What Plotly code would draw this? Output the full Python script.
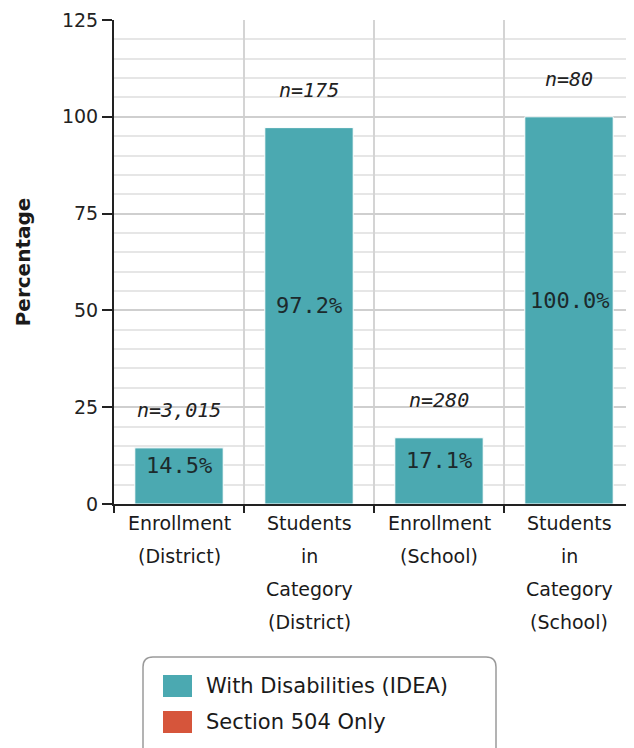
import plotly.graph_objects as go

categories = ["Enrollment (District)", "Students in Category (District)",
              "Enrollment (School)", "Students in Category (School)"]
category_lines = [["Enrollment", "(District)"],
                  ["Students", "in", "Category", "(District)"],
                  ["Enrollment", "(School)"],
                  ["Students", "in", "Category", "(School)"]]
idea_values = [14.5, 97.2, 17.1, 100.0]
sec504_values = [None, None, None, None]
n_labels = ["n=3,015", "n=175", "n=280", "n=80"]
series_names = ["With Disabilities (IDEA)", "Section 504 Only"]
series_colors = ["#4BA9B1", "#D6553B"]
y_ticks = [0, 25, 50, 75, 100, 125]

FONT = "DejaVu Sans, sans-serif"
MONO = "DejaVu Sans Mono, monospace"

OFF = 8  # page body margin
W, H = 634, 748
ML, MR, MT = 114 - OFF, OFF, 20 - OFF
MB = H - (504 - OFF)
PW, PH = W - ML - MR, H - MT - MB


def px(x):
    return (x - OFF - ML) / PW


def py(y):
    return (H - MB - (y - OFF)) / PH


fig = go.Figure()
fig.add_trace(go.Bar(x=categories, y=idea_values, name=series_names[0],
                     marker=dict(color=series_colors[0], line=dict(color="white", width=1)),
                     width=0.68, showlegend=False))
fig.add_trace(go.Bar(x=categories, y=sec504_values, name=series_names[1],
                     marker=dict(color=series_colors[1]), width=0.68, showlegend=False))

annotations = []
for c, v, n in zip(categories, idea_values, n_labels):
    annotations.append(dict(x=c, y=v / 2, text=f"{v:.1f}%", showarrow=False,
                            yshift=10, font=dict(family=MONO, size=22, color="#1c2a2c")))
    annotations.append(dict(x=c, y=v, text=n, showarrow=False, yanchor="bottom", yshift=24,
                            font=dict(family=MONO, size=20, color="#222", style="italic")))
for c, lines in zip(categories, category_lines):
    for i, line in enumerate(lines):
        annotations.append(dict(x=c, xref="x", y=0, yref="paper", text=line, showarrow=False,
                                yanchor="middle", yshift=-(19 + 33 * i),
                                font=dict(family=FONT, size=19, color="#1a1a1a")))

# manual legend
shapes = []
x0, x1 = px(143), px(496)
yt, yb = py(657), py(790)
rx, ry = 10 / PW, 10 / PH
shapes.append(dict(type="path", xref="paper", yref="paper",
                   path=f"M {x0},{yb} L {x0},{yt - ry} Q {x0},{yt} {x0 + rx},{yt} "
                        f"L {x1 - rx},{yt} Q {x1},{yt} {x1},{yt - ry} L {x1},{yb} Z",
                   line=dict(color="#9a9a9a", width=1.5), fillcolor="white", layer="above"))
for i, (name, col) in enumerate(zip(series_names, series_colors)):
    top = 675 + 36 * i
    shapes.append(dict(type="rect", xref="paper", yref="paper",
                       x0=px(163), x1=px(192), y0=py(top), y1=py(top + 22),
                       fillcolor=col, line=dict(width=0), layer="above"))
    annotations.append(dict(x=px(204), y=py(top + 11), xref="paper", yref="paper",
                            text=name, showarrow=False, xanchor="left", yanchor="middle",
                            font=dict(family=FONT, size=21, color="#1a1a1a")))

fig.update_layout(
    width=W, height=H, margin=dict(l=ML, r=MR, t=MT, b=MB, autoexpand=False),
    paper_bgcolor="white", plot_bgcolor="white", barmode="overlay",
    showlegend=False, annotations=annotations, shapes=shapes,
    font=dict(family=FONT, size=19, color="#1a1a1a"),
)
fig.update_xaxes(type="category", tickson="boundaries", showgrid=True,
                 gridcolor="#d4d4d4", gridwidth=2, showticklabels=False,
                 ticks="outside", ticklen=7, tickwidth=2, tickcolor="#222",
                 showline=True, linecolor="#222", linewidth=2, range=[-0.5, 3.5])
fig.update_yaxes(range=[0, 125], tickvals=y_ticks, showgrid=True, gridcolor="#cfcfcf",
                 gridwidth=2, zeroline=False, ticks="outside", ticklen=10, tickwidth=2,
                 tickcolor="#222", showline=True, linecolor="#222", linewidth=2,
                 tickfont=dict(family=FONT, size=19, color="#222"),
                 minor=dict(dtick=5, showgrid=True, gridcolor="#e6e6e6", gridwidth=2, ticklen=0),
                 title=dict(text="<b>Percentage</b>", standoff=26,
                            font=dict(family=FONT, size=20, color="#1a1a1a")))

fig.write_html("out.html")
